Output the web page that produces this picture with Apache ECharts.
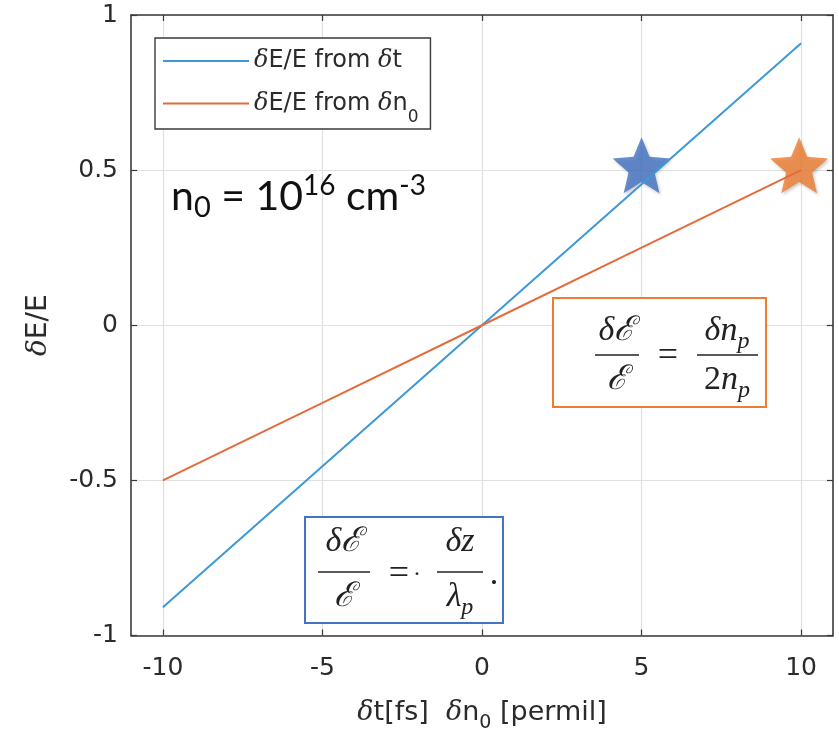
<!DOCTYPE html>
<html><head><meta charset="utf-8">
<script src="https://cdn.jsdelivr.net/npm/echarts@6/dist/echarts.min.js"></script>
<style>html,body{margin:0;padding:0;background:#fff}#c{width:839px;height:738px}</style>
</head><body><div id="c"></div>
<script>
// ---- data ----
const xValues = [-10, -5, 0, 5, 10];
const dtSeries = [-0.909, -0.4545, 0, 0.4545, 0.909];   // δE/E from δt
const dnSeries = [-0.5, -0.25, 0, 0.25, 0.5];           // δE/E from δn0
const xTicks = [-10, -5, 0, 5, 10];
const yTicks = [-1, -0.5, 0, 0.5, 1];
const blueStar = [[5, 0.5]];
const orangeStar = [[10, 0.5]];
const legendNames = ['δE/E from δt', 'δE/E from δn0'];

const TXT = '#2b2b2b';
const AX = '#3a3a3a';
const SANS = 'DejaVu Sans';
const STAR = 'path://M50,0 L63.22,31.8 L97.55,34.55 L71.4,56.95 L79.39,90.45 L50,72.5 L20.61,90.45 L28.6,56.95 L2.45,34.55 L36.78,31.8 Z';

function richName(n) {
  return n.replace(/δ/g, '{d|δ}').replace(/n0$/, 'n{s|0}');
}

const chart = echarts.init(document.getElementById('c'), null, {renderer: 'canvas'});

function t(x, y, text, size, extra) {
  return {type: 'text', x: x, y: y, z: 110,
    style: Object.assign({text: text, fontSize: size, fontFamily: 'Liberation Serif', fontStyle: 'italic',
      fill: '#222', align: 'center', verticalAlign: 'middle'}, extra || {})};
}
function bar(x1, x2, y) {
  return {type: 'line', z: 110, shape: {x1: x1, y1: y, x2: x2, y2: y}, style: {stroke: '#222', lineWidth: 1.6}};
}
const eqRich = {
  i: {fontFamily: 'Liberation Serif', fontStyle: 'italic', fontSize: 34, lineHeight: 40},
  u: {fontFamily: 'Liberation Serif', fontSize: 34, lineHeight: 40},
  s: {fontFamily: 'Liberation Serif', fontStyle: 'italic', fontSize: 24, lineHeight: 2, padding: [22, 0, 0, 0]}
};

const option = {
  animation: false,
  backgroundColor: '#fff',
  grid: {left: 131, right: 6, top: 15, bottom: 98, containLabel: false},
  legend: {
    orient: 'vertical', left: 155, top: 38,
    data: legendNames, icon: 'rect', itemWidth: 86, itemHeight: 2, itemGap: 5,
    padding: [8, 12, 3, 8],
    borderColor: '#3a3a3a', borderWidth: 1.4, backgroundColor: '#fff',
    formatter: richName,
    textStyle: {fontFamily: SANS, fontSize: 24, color: TXT, lineHeight: 30,
      rich: {
        d: {fontFamily: 'DejaVu Serif', fontStyle: 'italic', fontSize: 24, lineHeight: 30, color: TXT},
        s: {fontFamily: SANS, fontSize: 17, lineHeight: 2, padding: [28, 0, 0, 0], color: TXT}
      }}
  },
  xAxis: [{
    type: 'value', min: -11, max: 11, position: 'bottom',
    axisLine: {show: true, onZero: false, lineStyle: {color: AX, width: 1.6}},
    axisTick: {show: true, inside: true, length: 6, customValues: xTicks, lineStyle: {color: AX, width: 1.2}},
    axisLabel: {customValues: xTicks, color: TXT, fontSize: 25, fontFamily: SANS, margin: 20},
    splitLine: {show: true, lineStyle: {color: '#e0e0e0', width: 1.2}},
    name: '{d|δ}t[fs]  {d|δ}n{s|0} [permil]', nameLocation: 'middle', nameGap: 61,
    nameTextStyle: {fontFamily: SANS, fontSize: 27, color: TXT, lineHeight: 32,
      rich: {
        d: {fontFamily: 'DejaVu Serif', fontStyle: 'italic', fontSize: 27, lineHeight: 32, color: TXT},
        s: {fontFamily: SANS, fontSize: 19, lineHeight: 2, padding: [22, 0, 0, 0], color: TXT}
      }}
  }, {
    type: 'value', min: -11, max: 11, position: 'top',
    axisLine: {show: true, onZero: false, lineStyle: {color: AX, width: 1.6}},
    axisTick: {show: true, inside: true, length: 6, customValues: xTicks, lineStyle: {color: AX, width: 1.2}},
    axisLabel: {show: false}, splitLine: {show: false}
  }],
  yAxis: [{
    type: 'value', min: -1, max: 1, interval: 0.5, position: 'left',
    axisLine: {show: true, onZero: false, lineStyle: {color: AX, width: 1.6}},
    axisTick: {show: true, inside: true, length: 6, customValues: yTicks, lineStyle: {color: AX, width: 1.2}},
    axisLabel: {customValues: yTicks, color: TXT, fontSize: 25, fontFamily: SANS, margin: 13},
    splitLine: {show: true, lineStyle: {color: '#e0e0e0', width: 1.2}},
    name: '{d|δ}E/E', nameLocation: 'middle', nameGap: 78, nameRotate: 90,
    nameTextStyle: {fontFamily: SANS, fontSize: 28, color: TXT,
      rich: {d: {fontFamily: 'DejaVu Serif', fontStyle: 'italic', fontSize: 28, color: TXT}}}
  }, {
    type: 'value', min: -1, max: 1, interval: 0.5, position: 'right',
    axisLine: {show: true, onZero: false, lineStyle: {color: AX, width: 1.6}},
    axisTick: {show: true, inside: true, length: 6, customValues: yTicks, lineStyle: {color: AX, width: 1.2}},
    axisLabel: {show: false}, splitLine: {show: false}
  }],
  series: [{
    name: 'blueStar', type: 'scatter', data: blueStar, symbol: STAR, symbolSize: [58, 56],
    symbolOffset: [0, -5], clip: false, z: 2,
    itemStyle: {color: '#4472C4', shadowBlur: 3, shadowColor: 'rgba(0,0,0,0.25)', shadowOffsetX: 1.5, shadowOffsetY: 2}
  }, {
    name: 'orangeStar', type: 'scatter', data: orangeStar, symbol: STAR, symbolSize: [58, 56],
    symbolOffset: [-2, -5], clip: false, z: 2,
    itemStyle: {color: '#ED7D31', shadowBlur: 3, shadowColor: 'rgba(0,0,0,0.25)', shadowOffsetX: 1.5, shadowOffsetY: 2}
  }, {
    name: legendNames[0], type: 'line', symbol: 'none', showSymbol: false,
    data: xValues.map((x, i) => [x, dtSeries[i]]),
    lineStyle: {color: '#3d98d6', width: 2}, itemStyle: {color: '#3d98d6'}, z: 3
  }, {
    name: legendNames[1], type: 'line', symbol: 'none', showSymbol: false,
    data: xValues.map((x, i) => [x, dnSeries[i]]),
    lineStyle: {color: '#e46c3c', width: 2}, itemStyle: {color: '#e46c3c'}, z: 3
  }],
  graphic: [
    // n0 = 10^16 cm^-3
    {type: 'text', x: 171, y: 197, z: 110, style: {
      text: '{m|n}{s|0}{m| = 10}{p|16}{m| cm}{p|-3}', align: 'left', verticalAlign: 'middle', fill: '#111',
      rich: {
        m: {fontFamily: 'Lato', fontSize: 41, lineHeight: 50, fill: '#111'},
        s: {fontFamily: 'Lato', fontSize: 29, lineHeight: 2, padding: [22, 0, 0, 0], fill: '#111'},
        p: {fontFamily: 'Lato', fontSize: 28, lineHeight: 2, padding: [0, 0, 22, 0], fill: '#111'}
      }}},
    // orange equation box
    {type: 'rect', z: 105, shape: {x: 553, y: 298, width: 213, height: 109},
      style: {fill: '#fff', stroke: '#ED7D31', lineWidth: 2}},
    t(617, 331, 'δℰ', 34),
    bar(595, 639, 355),
    t(617, 380, 'ℰ', 34),
    t(668, 357, '=', 36, {fontStyle: 'normal'}),
    t(727, 331, '{i|δn}{s|p}', 34, {rich: eqRich}),
    bar(697, 758, 355),
    t(727, 380, '{u|2}{i|n}{s|p}', 34, {rich: eqRich}),
    // blue equation box
    {type: 'rect', z: 105, shape: {x: 305, y: 517, width: 198, height: 106},
      style: {fill: '#fff', stroke: '#4472C4', lineWidth: 2}},
    t(344, 542, 'δℰ', 34),
    bar(318, 370, 572),
    t(344, 597, 'ℰ', 34),
    t(399, 575, '=', 36, {fontStyle: 'normal'}),
    t(417, 575, '·', 24, {fontStyle: 'normal'}),
    t(460, 542, 'δz', 34),
    bar(437, 483, 572),
    t(460, 597, '{i|λ}{s|p}', 34, {rich: eqRich}),
    t(494, 575, '.', 34, {fontStyle: 'normal'})
  ]
};
chart.setOption(option);
</script>
</body></html>
